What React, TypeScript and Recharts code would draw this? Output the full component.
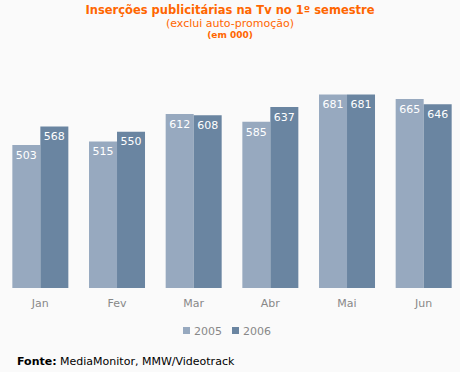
import { BarChart, Bar, XAxis, YAxis, Legend, LabelList } from "recharts";

const months = ["Jan", "Fev", "Mar", "Abr", "Mai", "Jun"];
const values2005 = [503, 515, 612, 585, 681, 665];
const values2006 = [568, 550, 608, 637, 681, 646];

const data = months.map((m, i) => ({ month: m, y2005: values2005[i], y2006: values2006[i] }));

const font = "'DejaVu Sans', Verdana, sans-serif";
const orange = "#FF6600";

const App = () => {
  return (
    <div
      style={{
        position: "absolute",
        left: 0,
        top: 0,
        width: 460,
        height: 372,
        background: "#FAFAFA",
        overflow: "hidden",
        fontFamily: font,
      }}
    >
      <div style={{ position: "absolute", top: 3, width: 460, textAlign: "center", color: orange, fontSize: 11.5, fontWeight: "bold" }}>
        Inserções publicitárias na Tv no 1º semestre
      </div>
      <div style={{ position: "absolute", top: 17, width: 460, textAlign: "center", color: orange, fontSize: 11 }}>
        (exclui auto-promoção)
      </div>
      <div style={{ position: "absolute", top: 30, width: 460, textAlign: "center", color: orange, fontSize: 9, fontWeight: "bold" }}>
        (em 000)
      </div>

      <div style={{ position: "absolute", left: 0, top: 0 }}>
        <BarChart
          width={464}
          height={339}
          data={data}
          margin={{ top: 89, right: 2, left: 2, bottom: 0 }}
          barCategoryGap="13.5%"
          barGap={0}
        >
          <YAxis hide domain={[0, 700]} />
          <XAxis
            dataKey="month"
            axisLine={false}
            tickLine={false}
            tick={{ fill: "#888888", fontSize: 11, fontFamily: font }}
            tickMargin={5}
          />
          <Legend
            iconType="square"
            iconSize={7}
            formatter={(value) => <span style={{ color: "#888888", fontSize: 11, fontFamily: font }}>{value}</span>}
            wrapperStyle={{ paddingTop: 2 }}
          />
          <Bar dataKey="y2005" name="2005" fill="#97A9BF" isAnimationActive={false}>
            <LabelList dataKey="y2005" position="insideTop" offset={6} fill="#FFFFFF" fontSize={11} fontFamily={font} />
          </Bar>
          <Bar dataKey="y2006" name="2006" fill="#6A85A1" isAnimationActive={false}>
            <LabelList dataKey="y2006" position="insideTop" offset={6} fill="#FFFFFF" fontSize={11} fontFamily={font} />
          </Bar>
        </BarChart>
      </div>

      <div style={{ position: "absolute", left: 17, top: 355, fontSize: 11, color: "#000" }}>
        <b>Fonte:</b> MediaMonitor, MMW/Videotrack
      </div>
    </div>
  );
};

export default App;
